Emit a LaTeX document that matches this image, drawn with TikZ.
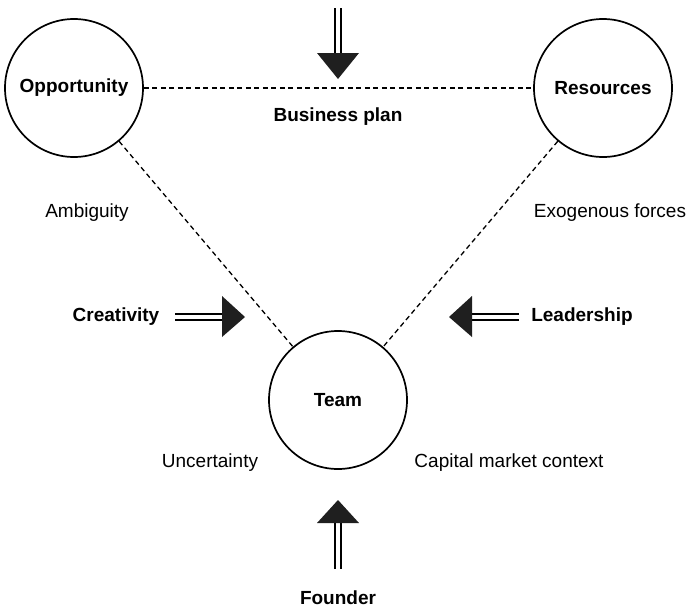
\documentclass[tikz,border=0pt]{standalone}
\usepackage{fontspec}
\setmainfont{Liberation Sans}
\begin{document}
\begin{tikzpicture}[x=1pt,y=-1pt,
  every node/.style={font=\fontsize{19}{22}\selectfont},
  factor/.style={circle,draw,line width=1.7pt,minimum size=138pt,inner sep=0pt,font=\fontsize{19}{22}\selectfont\bfseries},
  link/.style={dashed,line width=1.3pt,dash pattern=on 5pt off 3.5pt},
  shaft/.style={line width=2.6pt,double,double distance=3.4pt},
  head/.style={fill=black!88},
  bold/.style={font=\fontsize{19}{22}\selectfont\bfseries}]
\useasboundingbox (0,0) rectangle (686,608);
\node[factor] (opp) at (74,88) {Opportunity};
\node[factor] (res) at (603,88) {Resources};
\node[factor] (team) at (338,400) {Team};
\draw[link] (opp) -- (res);
\draw[link] (opp) -- (team);
\draw[link] (res) -- (team);
% labels
\node[bold] (bp) at (338,117) {Business plan};
\node (amb) at (87,213) {Ambiguity};
\node (exo) at (610,213) {Exogenous forces};
\node[bold] (cre) at (116,317) {Creativity};
\node[bold] (lead) at (582,317) {Leadership};
\node (unc) at (210,463) {Uncertainty};
\node (cap) at (509,463) {Capital market context};
\node[bold] (fou) at (338,598) {Founder};
% top arrow
\coordinate (tA) at (338,8);
\coordinate (tB) at (338,55);
\draw[shaft] (tA) -- (tB);
\fill[head] (317,53) -- (359,53) -- (338,79) -- cycle;
% creativity arrow
\coordinate (cA) at (175,317);
\coordinate (cB) at (224,317);
\draw[shaft] (cA) -- (cB);
\fill[head] (222,296) -- (222,337) -- (245,317) -- cycle;
% leadership arrow
\coordinate (lA) at (519,317);
\coordinate (lB) at (470,317);
\draw[shaft] (lA) -- (lB);
\fill[head] (472,296) -- (472,337) -- (449,317) -- cycle;
% founder arrow
\coordinate (fA) at (338,569);
\coordinate (fB) at (338,521);
\draw[shaft] (fA) -- (fB);
\fill[head] (317,523) -- (359,523) -- (338,500) -- cycle;
\end{tikzpicture}
\end{document}
